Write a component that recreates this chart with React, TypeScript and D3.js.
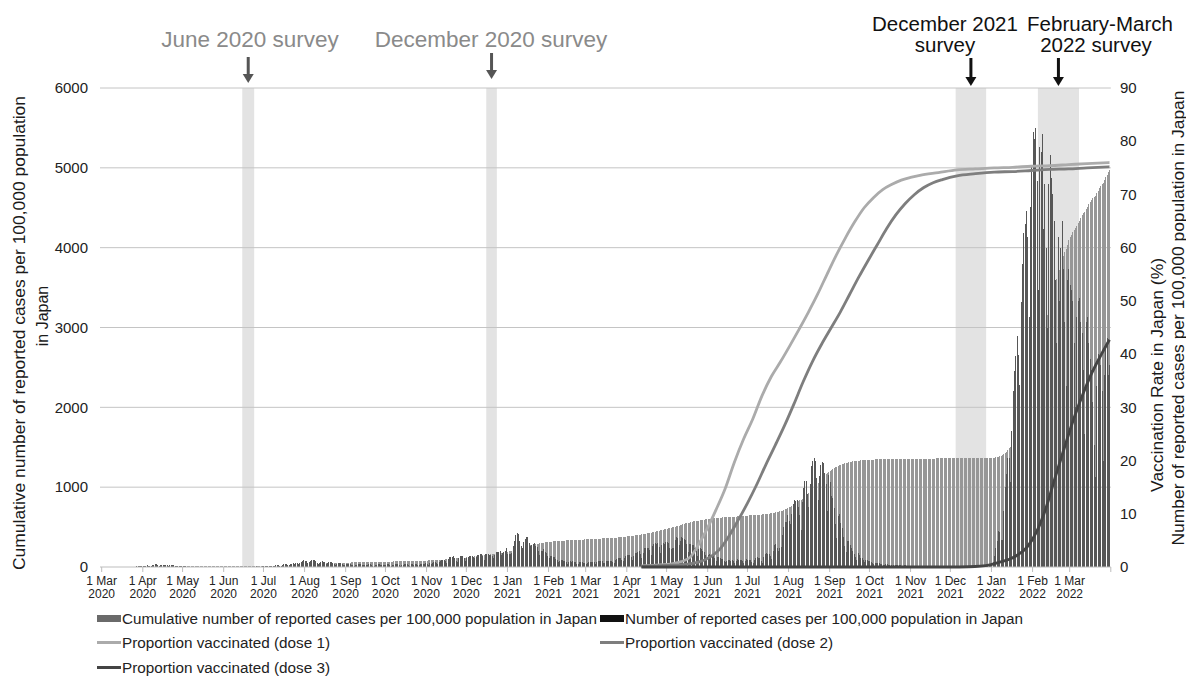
import React from 'react';
import * as d3 from 'd3';

const W = 1186;
const H = 677;
const FONT = '"Liberation Sans", Arial, Helvetica, sans-serif';

// Daily reported cases per 100,000 (right axis), one array per month, Mar 2020 .. Mar 2022
const dailyCases: number[][] = [
  [0.01,0.01,0.01,0.02,0.03,0.04,0.04,0.03,0.02,0.05,0.04,0.04,0.05,0.04,0.02,0.01,0.03,0.03,0.03,0.03,0.04,0.03,0.03,0.05,0.08,0.08,0.1,0.16,0.14,0.1,0.17],
  [0.21,0.2,0.28,0.29,0.12,0.2,0.28,0.41,0.46,0.55,0.56,0.4,0.24,0.34,0.4,0.46,0.46,0.46,0.3,0.17,0.3,0.34,0.35,0.35,0.28,0.16,0.17,0.23,0.19,0.15],
  [0.13,0.15,0.16,0.07,0.07,0.08,0.08,0.07,0.09,0.05,0.04,0.05,0.04,0.04,0.04,0.03,0.01,0.03,0.02,0.02,0.03,0.02,0.02,0.02,0.02,0.02,0.02,0.03,0.04,0.03,0.03],
  [0.02,0.03,0.04,0.04,0.04,0.03,0.04,0.03,0.03,0.03,0.03,0.04,0.04,0.06,0.04,0.04,0.03,0.03,0.05,0.07,0.05,0.04,0.05,0.06,0.1,0.08,0.09,0.09,0.07,0.1],
  [0.1,0.1,0.2,0.21,0.2,0.15,0.17,0.2,0.28,0.34,0.33,0.32,0.22,0.27,0.36,0.49,0.47,0.53,0.4,0.34,0.5,0.63,0.78,0.61,0.66,0.66,0.48,0.78,0.97,1.07,1.26],
  [1.22,1.11,0.76,0.97,1.12,1.26,1.27,1.25,1.1,0.7,0.56,0.78,1.02,1.07,1.02,0.87,0.64,0.78,0.92,0.87,0.86,0.73,0.58,0.4,0.58,0.71,0.68,0.72,0.56,0.46,0.35],
  [0.5,0.48,0.47,0.47,0.4,0.3,0.23,0.4,0.39,0.51,0.49,0.48,0.35,0.3,0.39,0.39,0.41,0.48,0.48,0.38,0.23,0.19,0.3,0.38,0.51,0.5,0.44,0.29,0.41,0.45],
  [0.42,0.49,0.47,0.37,0.24,0.4,0.38,0.55,0.51,0.5,0.38,0.25,0.46,0.4,0.54,0.51,0.48,0.34,0.24,0.49,0.48,0.46,0.6,0.57,0.46,0.34,0.55,0.58,0.65,0.6,0.69],
  [0.5,0.4,0.7,0.6,0.8,0.89,0.96,0.77,0.6,0.9,1.2,1.3,1.35,1.36,1.2,0.84,1.5,1.8,1.8,1.9,2.0,1.7,1.2,1.0,1.6,2.0,2.0,2.1,1.7,1.2],
  [1.65,1.9,2.0,2.0,2.0,1.9,1.6,1.8,2.3,2.3,2.4,2.4,2.0,1.4,2.4,2.4,2.4,2.3,2.3,2.1,1.6,2.3,2.9,2.9,2.9,3.0,2.3,2.6,2.8,3.0,3.6],
  [2.5,2.5,2.5,2.6,3.9,4.8,6.0,6.3,6.2,4.9,3.9,3.6,4.7,5.3,5.6,5.6,4.5,3.9,4.2,4.4,4.5,4.0,3.7,3.1,2.2,3.0,3.1,3.3,2.8,2.6,2.1],
  [1.6,2.0,2.1,1.9,1.8,1.5,1.3,1.0,1.2,1.4,1.4,1.1,1.1,1.0,0.6,0.9,1.2,1.0,1.1,1.0,1.0,0.6,0.6,0.9,0.9,0.9,0.8,0.8],
  [0.6,0.8,1.0,1.0,1.0,1.0,0.9,0.6,1.0,1.1,1.1,1.1,1.1,0.8,0.8,1.1,1.2,1.2,1.2,1.2,1.0,0.8,1.3,1.5,1.6,1.6,1.7,1.3,1.1,1.6,2.1],
  [2.2,2.2,2.2,1.9,1.3,2.1,2.7,2.7,2.8,3.0,2.5,1.6,2.7,3.6,3.6,3.6,3.6,3.2,2.2,3.9,4.4,4.6,4.3,4.5,3.7,2.6,4.1,4.6,4.4,4.7],
  [4.7,4.6,3.5,3.4,3.5,3.5,5.1,5.7,5.5,4.1,4.8,5.6,5.5,5.3,5.1,4.3,2.9,4.3,4.4,4.2,4.1,3.5,3.0,2.0,3.3,3.5,3.3,3.1,2.8,2.2,1.5],
  [2.3,2.4,2.2,2.1,2.1,1.6,1.2,1.8,1.8,1.6,1.5,1.5,1.2,0.9,1.2,1.4,1.4,1.2,1.3,1.1,0.8,1.2,1.5,1.4,1.4,1.4,1.1,0.8,1.2,1.5],
  [1.4,1.4,1.3,1.0,0.7,1.3,1.7,1.8,1.7,1.6,1.2,0.8,1.8,2.5,2.7,2.4,2.4,2.1,1.5,3.0,4.1,4.3,3.5,3.1,3.5,3.8,6.1,7.6,8.5,8.5,9.8],
  [8.6,8.0,9.9,11.9,12.5,12.4,12.6,11.2,9.7,7.0,12.3,14.8,16.1,16.2,13.8,11.2,15.6,18.9,19.9,20.5,20.0,16.7,12.6,17.1,19.2,19.7,19.6,17.7,15.6,10.5,17.3],
  [15.9,13.3,12.9,11.1,8.0,5.4,9.5,9.9,8.3,7.3,5.7,4.0,2.9,4.9,4.8,4.1,3.5,3.0,2.4,1.8,1.4,2.6,2.3,1.7,1.6,1.3,0.9,1.3,1.4,1.1],
  [1.1,1.0,0.8,0.5,0.7,0.8,0.7,0.7,0.6,0.5,0.3,0.4,0.5,0.5,0.4,0.4,0.3,0.2,0.3,0.3,0.3,0.3,0.3,0.3,0.2,0.2,0.3,0.3,0.2,0.2,0.2],
  [0.07,0.1,0.13,0.18,0.13,0.15,0.13,0.08,0.13,0.15,0.16,0.13,0.14,0.1,0.06,0.1,0.1,0.12,0.12,0.11,0.1,0.05,0.06,0.1,0.11,0.11,0.1,0.08,0.05,0.08],
  [0.1,0.1,0.1,0.1,0.1,0.08,0.1,0.11,0.12,0.11,0.1,0.11,0.07,0.12,0.14,0.14,0.15,0.15,0.14,0.1,0.2,0.21,0.2,0.22,0.22,0.17,0.16,0.3,0.3,0.3,0.4],
  [0.6,1.0,2.1,3.6,4.9,6.7,6.6,5.1,5.1,10.5,15.0,17.5,20.5,20.4,15.9,25.6,33.0,36.8,39.7,43.4,39.8,34.2,49.8,57.0,62.8,64.4,66.8,62.0,47.0,67.6,75.4],
  [81.8,80.5,82.5,72.6,52.0,79.0,78.0,81.4,63.5,72.0,60.0,45.0,72.0,77.4,73.0,70.0,65.0,54.0,42.0,62.0,50.0,60.0,65.0,56.0,46.0,34.0,54.0,56.0],
  [53,52,50,42,30,47,50,50.5,46,44,37,25,46,47,42,39,37,31,23,17,34,40,39,38,33,20,36,41,43,36,38],
];

// Cumulative reported cases per 100,000 (left axis), one array per month, Mar 2020 .. Mar 2022
const cumulativeCases: number[][] = [
  [0.2,0.2,0.2,0.2,0.3,0.3,0.3,0.4,0.4,0.4,0.5,0.5,0.5,0.6,0.6,0.6,0.6,0.7,0.7,0.7,0.8,0.8,0.8,0.9,0.9,1.0,1.1,1.2,1.4,1.5,1.7],
  [1.9,2.1,2.4,2.7,2.8,3.0,3.3,3.7,4.2,4.7,5.3,5.7,6.0,6.3,6.7,7.1,7.6,8.0,8.3,8.5,8.8,9.1,9.5,9.8,10.1,10.3,10.4,10.7,10.9,11.0],
  [11.2,11.4,11.5,11.6,11.7,11.8,11.9,11.9,12.0,12.1,12.1,12.2,12.2,12.3,12.3,12.3,12.4,12.4,12.4,12.5,12.5,12.5,12.5,12.6,12.6,12.6,12.7,12.7,12.7,12.8,12.8],
  [12.8,12.9,12.9,12.9,13.0,13.0,13.0,13.1,13.1,13.1,13.2,13.2,13.2,13.3,13.3,13.4,13.4,13.4,13.5,13.5,13.6,13.6,13.7,13.7,13.8,13.9,14.0,14.1,14.2,14.3],
  [14.4,14.5,14.7,14.9,15.1,15.3,15.5,15.7,15.9,16.2,16.5,16.8,17.1,17.4,17.7,18.2,18.7,19.2,19.6,19.9,20.4,21.0,21.8,22.4,23.1,23.7,24.2,25.0,26.0,27.0,28.3],
  [29.5,30.6,31.4,32.3,33.4,34.7,36.0,37.2,38.3,39.0,39.6,40.4,41.4,42.5,43.5,44.4,45.0,45.8,46.7,47.6,48.5,49.2,49.8,50.2,50.8,51.5,52.2,52.9,53.4,53.9,54.3],
  [54.8,55.3,55.7,56.2,56.6,56.9,57.1,57.5,57.9,58.4,58.9,59.4,59.8,60.1,60.5,60.9,61.3,61.8,62.2,62.6,62.9,63.1,63.4,63.8,64.3,64.8,65.2,65.5,65.9,66.4],
  [66.8,67.3,67.8,68.1,68.4,68.8,69.1,69.7,70.2,70.7,71.1,71.3,71.8,72.2,72.7,73.2,73.7,74.0,74.3,74.8,75.2,75.7,76.3,76.9,77.3,77.7,78.2,78.8,79.4,80.0,80.7],
  [81.2,81.6,82.3,82.9,83.7,84.6,85.6,86.3,86.9,87.8,89.0,90.3,91.7,93.0,94.2,95.1,96.6,98.4,100.2,102.1,104.1,105.8,107.0,108.0,109.6,111.6,113.6,115.7,117.4,118.6],
  [120.3,122.2,124.2,126.2,128.2,130.1,131.7,133.5,135.8,138.1,140.5,142.9,144.9,146.3,148.7,151.1,153.5,155.8,158.1,160.2,161.8,164.1,167.0,169.9,172.8,175.8,178.1,180.7,183.5,186.5,190.1],
  [192.6,195.1,197.6,200.2,204.1,208.9,214.9,221.2,227.4,232.3,236.2,239.8,244.5,249.8,255.4,261.0,265.5,269.4,273.6,278.0,282.5,286.5,290.2,293.3,295.5,298.5,301.6,304.9,307.7,310.3,312.4],
  [314.0,316.0,318.1,320.0,321.8,323.3,324.6,325.6,326.8,328.2,329.6,330.7,331.8,332.8,333.4,334.3,335.5,336.5,337.6,338.6,339.6,340.2,340.8,341.7,342.6,343.5,344.3,345.1],
  [345.7,346.5,347.5,348.5,349.5,350.5,351.4,352.0,353.0,354.1,355.2,356.3,357.4,358.2,359.0,360.1,361.3,362.5,363.7,364.9,365.9,366.7,368.0,369.5,371.1,372.7,374.4,375.7,376.8,378.4,380.5],
  [382.7,384.9,387.1,389.0,390.3,392.4,395.1,397.8,400.6,403.6,406.1,407.7,410.4,414.0,417.6,421.2,424.8,428.0,430.2,434.1,438.5,443.1,447.4,451.9,455.6,458.2,462.3,466.9,471.3,476.0],
  [480.7,485.3,488.8,492.2,495.7,499.2,504.3,510.0,515.5,519.6,524.4,530.0,535.5,540.8,545.9,550.2,553.1,557.4,561.8,566.0,570.1,573.6,576.6,578.6,581.9,585.4,588.7,591.8,594.6,596.8,598.3],
  [600.6,603.0,605.2,607.3,609.4,611.0,612.2,614.0,615.8,617.4,618.9,620.4,621.6,622.5,623.7,625.1,626.5,627.7,629.0,630.1,630.9,632.1,633.6,635.0,636.4,637.8,638.9,639.7,640.9,642.4],
  [643.8,645.2,646.5,647.5,648.2,649.5,651.2,653.0,654.7,656.3,657.5,658.3,660.1,662.6,665.3,667.7,670.1,672.2,673.7,676.7,680.8,685.1,688.6,691.7,695.2,699.0,705.1,712.7,721.2,729.7,739.5],
  [748.1,756.1,766.0,777.9,790.4,802.8,815.4,826.6,836.3,843.3,855.6,870.4,886.5,902.7,916.5,927.7,943.3,962.2,982.1,1002.6,1022.6,1039.3,1051.9,1069.0,1088.2,1107.9,1127.5,1145.2,1160.8,1171.3,1188.6],
  [1204.5,1217.8,1230.7,1241.8,1249.8,1255.2,1264.7,1274.6,1282.9,1290.2,1295.9,1299.9,1302.8,1307.7,1312.5,1316.6,1320.1,1323.1,1325.5,1327.3,1328.7,1331.3,1333.6,1335.3,1336.9,1338.2,1339.1,1340.4,1341.8,1342.9],
  [1344.0,1345.0,1345.8,1346.3,1347.0,1347.8,1348.5,1349.2,1349.8,1350.3,1350.6,1351.0,1351.5,1352.0,1352.4,1352.8,1353.1,1353.3,1353.6,1353.9,1354.2,1354.5,1354.8,1355.1,1355.3,1355.5,1355.8,1356.1,1356.3,1356.5,1356.7],
  [1356.8,1356.9,1357.0,1357.2,1357.3,1357.5,1357.6,1357.7,1357.8,1358.0,1358.1,1358.3,1358.4,1358.5,1358.6,1358.7,1358.8,1358.9,1359.0,1359.1,1359.2,1359.3,1359.4,1359.5,1359.6,1359.7,1359.8,1359.9,1360.0,1360.1],
  [1360.2,1360.3,1360.4,1360.5,1360.6,1360.7,1360.8,1360.9,1361.0,1361.1,1361.2,1361.3,1361.4,1361.5,1361.6,1361.8,1361.9,1362.1,1362.2,1362.3,1362.5,1362.7,1362.9,1363.1,1363.4,1363.5,1363.7,1364.0,1364.3,1364.6,1365.0],
  [1365.6,1366.6,1368.7,1372.3,1377.2,1383.9,1390.5,1395.6,1400.7,1411.2,1426.2,1443.7,1464.2,1484.6,1500.5,1526.1,1559.1,1595.9,1635.6,1679.0,1718.8,1753.0,1802.8,1859.8,1922.6,1987.0,2053.8,2115.8,2162.8,2230.4,2305.8],
  [2387.6,2468.1,2550.6,2623.2,2675.2,2754.2,2832.2,2913.6,2977.1,3049.1,3109.1,3154.1,3226.1,3303.5,3376.5,3446.5,3511.5,3565.5,3607.5,3669.5,3719.5,3779.5,3844.5,3900.5,3946.5,3980.5,4034.5,4090.5],
  [4128,4162,4195,4226,4252,4274,4306,4340,4372,4403,4431,4452,4482,4513,4543,4572,4599,4621,4638,4652,4680,4712,4743,4772,4798,4815,4845,4880,4914,4944,4972],
];

// Proportion vaccinated (%), right axis
const dose1: [string, number][] = [
  ['2021-04-12', 0.2], ['2021-04-26', 0.4], ['2021-05-05', 0.6], ['2021-05-12', 1.0], ['2021-05-19', 1.9],
  ['2021-05-26', 4.6], ['2021-06-01', 7.4], ['2021-06-07', 10.6], ['2021-06-14', 14.6], ['2021-06-21', 19.6],
  ['2021-06-28', 24.0], ['2021-07-05', 27.8], ['2021-07-12', 32.2], ['2021-07-19', 35.8], ['2021-07-26', 38.6],
  ['2021-08-02', 41.6], ['2021-08-09', 44.7], ['2021-08-16', 47.9], ['2021-08-23', 51.3], ['2021-08-30', 55.0],
  ['2021-09-06', 58.6], ['2021-09-13', 61.9], ['2021-09-20', 64.9], ['2021-09-27', 67.5], ['2021-10-04', 69.4],
  ['2021-10-11', 70.9], ['2021-10-18', 71.9], ['2021-10-25', 72.7], ['2021-11-01', 73.2], ['2021-11-08', 73.6],
  ['2021-11-22', 74.1], ['2021-12-06', 74.6], ['2021-12-20', 74.8], ['2022-01-03', 75.0], ['2022-01-17', 75.1],
  ['2022-01-31', 75.3], ['2022-02-14', 75.4], ['2022-02-28', 75.6], ['2022-03-14', 75.8], ['2022-03-31', 76.0],
];
const dose2: [string, number][] = [
  ['2021-04-12', 0.1], ['2021-05-01', 0.3], ['2021-05-15', 0.5], ['2021-05-25', 0.9], ['2021-06-03', 1.9],
  ['2021-06-10', 3.3], ['2021-06-17', 5.8], ['2021-06-24', 8.8], ['2021-07-01', 12.0], ['2021-07-08', 15.5],
  ['2021-07-15', 19.3], ['2021-07-22', 22.9], ['2021-07-29', 26.6], ['2021-08-05', 30.6], ['2021-08-12', 34.8],
  ['2021-08-19', 38.6], ['2021-08-26', 41.9], ['2021-09-02', 44.9], ['2021-09-09', 47.9], ['2021-09-16', 51.2],
  ['2021-09-23', 54.5], ['2021-09-30', 57.6], ['2021-10-07', 60.6], ['2021-10-14', 63.6], ['2021-10-21', 66.2],
  ['2021-10-28', 68.3], ['2021-11-04', 70.0], ['2021-11-11', 71.3], ['2021-11-18', 72.2], ['2021-11-25', 72.8],
  ['2021-12-06', 73.5], ['2021-12-20', 73.9], ['2022-01-03', 74.2], ['2022-01-17', 74.3], ['2022-01-31', 74.5],
  ['2022-02-14', 74.7], ['2022-02-28', 74.8], ['2022-03-14', 75.0], ['2022-03-31', 75.2],
];
const dose3: [string, number][] = [
  ['2021-04-12', 0], ['2021-11-30', 0], ['2021-12-15', 0.05], ['2021-12-31', 0.4], ['2022-01-07', 0.9],
  ['2022-01-14', 1.4], ['2022-01-21', 2.3], ['2022-01-28', 3.8], ['2022-02-04', 6.6], ['2022-02-11', 11.0],
  ['2022-02-18', 16.8], ['2022-02-25', 22.4], ['2022-03-04', 27.8], ['2022-03-11', 32.5], ['2022-03-18', 36.6],
  ['2022-03-25', 40.0], ['2022-03-31', 42.7],
];

const leftTicks = [0, 1000, 2000, 3000, 4000, 5000, 6000];
const rightTicks = [0, 10, 20, 30, 40, 50, 60, 70, 80, 90];

const surveys = [
  { lines: ['June 2020 survey'], start: '2020-06-15', end: '2020-06-24', dark: false },
  { lines: ['December 2020 survey'], start: '2020-12-16', end: '2020-12-24', dark: false },
  { lines: ['December 2021', 'survey'], start: '2021-12-05', end: '2021-12-28', dark: true },
  { lines: ['February-March', '2022 survey'], start: '2022-02-05', end: '2022-03-08', dark: true },
];

const legendItems = [
  { label: 'Cumulative number of reported cases per 100,000 population in Japan', kind: 'rect', color: '#6a6a6a' },
  { label: 'Number of reported cases per 100,000 population in Japan', kind: 'rect', color: '#111111' },
  { label: 'Proportion vaccinated (dose 1)', kind: 'line', color: '#ababab' },
  { label: 'Proportion vaccinated (dose 2)', kind: 'line', color: '#7e7e7e' },
  { label: 'Proportion vaccinated (dose 3)', kind: 'line', color: '#444444' },
];

const parse = d3.utcParse('%Y-%m-%d');

function expand(months: number[][]) {
  const out: { date: Date; value: number }[] = [];
  months.forEach((arr, m) =>
    arr.forEach((v, i) => out.push({ date: new Date(Date.UTC(2020, 2 + m, 1 + i)), value: v }))
  );
  return out;
}

export default function App() {
  const x = d3.scaleUtc().domain([new Date(Date.UTC(2020, 2, 1)), new Date(Date.UTC(2022, 3, 1))]).range([101.7, 1110.8]);
  const yL = d3.scaleLinear().domain([0, 6000]).range([567, 88]);
  const yR = d3.scaleLinear().domain([0, 90]).range([567, 88]);

  const daily = expand(dailyCases);
  const cumul = expand(cumulativeCases);

  const monthTicks = x.ticks(d3.utcMonth.every(1) as any);
  const fmtDay = d3.utcFormat('%-d %b');
  const fmtYear = d3.utcFormat('%Y');

  const line = d3
    .line<[string, number]>()
    .x((d) => x(parse(d[0]) as Date))
    .y((d) => yR(d[1]))
    .curve(d3.curveMonotoneX);

  const doseLines = [
    { data: dose1, color: '#ababab' },
    { data: dose2, color: '#7e7e7e' },
    { data: dose3, color: '#444444' },
  ];

  const x0 = 100;
  const x1 = 1110.8;

  const legendPos = [
    { x: 97, y: 624, w: 475 },
    { x: 600, y: 624, w: 398 },
    { x: 97, y: 648, w: 208 },
    { x: 600, y: 648, w: 208 },
    { x: 97, y: 673, w: 208 },
  ];

  return (
    <div style={{ position: 'absolute', left: 0, top: 0 }}>
      <svg width={W} height={H} style={{ display: 'block', background: '#fff' }} fontFamily={FONT}>
        {surveys.map((s, i) => {
          const a = x(parse(s.start) as Date);
          const b = x(parse(s.end) as Date);
          return <rect key={'band' + i} x={a} y={88} width={b - a} height={567 - 88} fill="#e3e3e3" />;
        })}
        {leftTicks.filter((t) => t > 0).map((t) => (
          <line key={'g' + t} x1={x0} x2={x1} y1={yL(t)} y2={yL(t)} stroke="#c4c4c4" strokeWidth={1} />
        ))}
        <g shapeRendering="crispEdges">
          {cumul.map((d, i) => (
            <rect key={'c' + i} x={Math.round(x(d.date))} y={yL(d.value)} width={1} height={567 - yL(d.value)} fill="#979797" />
          ))}
        </g>
        <g shapeRendering="crispEdges">
          {daily.map((d, i) => (
            <rect key={'d' + i} x={Math.round(x(d.date))} y={yR(d.value)} width={1} height={567 - yR(d.value)} fill="#575757" />
          ))}
        </g>
        <line x1={x0} x2={x1} y1={567} y2={567} stroke="#bdbdbd" strokeWidth={1} />
        {monthTicks.map((t, i) => (
          <line key={'t' + i} x1={x(t)} x2={x(t)} y1={567} y2={572} stroke="#bdbdbd" strokeWidth={1} />
        ))}
        {doseLines.map((l, i) => (
          <path key={'l' + i} d={line(l.data) || ''} fill="none" stroke={l.color} strokeWidth={2.8} strokeLinejoin="round" />
        ))}
        {monthTicks.slice(0, -1).map((t, i) => (
          <g key={'xl' + i} fontSize={12} fill="#222" textAnchor="middle">
            <text x={x(t)} y={584.5}>{fmtDay(t)}</text>
            <text x={x(t)} y={598}>{fmtYear(t)}</text>
          </g>
        ))}
        {leftTicks.map((t) => (
          <text key={'yl' + t} x={88} y={yL(t)} dy="0.35em" fontSize={15} fill="#222" textAnchor="end">
            {t}
          </text>
        ))}
        {rightTicks.map((t) => (
          <text key={'yr' + t} x={1120} y={yR(t)} dy="0.35em" fontSize={15} fill="#222" textAnchor="start">
            {t}
          </text>
        ))}
        <g fontSize={16} fill="#1a1a1a" textAnchor="middle">
          <text transform="translate(19,333) rotate(-90)" dy="0.35em" textLength={474} lengthAdjust="spacingAndGlyphs">
            Cumulative number of reported cases per 100,000 population
          </text>
          <text transform="translate(42,316) rotate(-90)" dy="0.35em">
            in Japan
          </text>
          <text transform="translate(1157,375) rotate(-90)" dy="0.35em" textLength={234} lengthAdjust="spacingAndGlyphs">
            Vaccination Rate in Japan (%)
          </text>
          <text transform="translate(1178,318) rotate(-90)" dy="0.35em" textLength={455} lengthAdjust="spacingAndGlyphs">
            Number of reported cases per 100,000 population in Japan
          </text>
        </g>
        {surveys.map((s, i) => {
          const cx = (x(parse(s.start) as Date) + x(parse(s.end) as Date)) / 2;
          const col = s.dark ? '#111' : '#555';
          const tcol = s.dark ? '#111' : '#8a8a8a';
          const top = s.dark ? 58 : i === 0 ? 57 : 53;
          const tip = s.dark ? 86 : i === 0 ? 83 : 79;
          const textCx = [250, 491, 945, 1100][i];
          return (
            <g key={'s' + i}>
              {s.lines.length === 1 ? (
                <text x={textCx} y={46.5} fontSize={22.5} fill={tcol} textAnchor="middle">
                  {s.lines[0]}
                </text>
              ) : (
                <g fontSize={20.5} fill={tcol} textAnchor="middle">
                  <text x={textCx} y={31}>{s.lines[0]}</text>
                  <text x={textCx - (i === 3 ? 4 : 0)} y={52}>{s.lines[1]}</text>
                </g>
              )}
              <line x1={cx} x2={cx} y1={top} y2={tip - 8} stroke={col} strokeWidth={3} />
              <path d={`M${cx - 5.5},${tip - 9} L${cx + 5.5},${tip - 9} L${cx},${tip} Z`} fill={col} />
            </g>
          );
        })}
        {legendItems.map((it, i) => {
          const p = legendPos[i];
          return (
            <g key={'lg' + i}>
              {it.kind === 'rect' ? (
                <rect x={p.x} y={p.y - 9} width={24} height={7} fill={it.color} />
              ) : (
                <line x1={p.x} x2={p.x + 24} y1={p.y - 5.5} y2={p.y - 5.5} stroke={it.color} strokeWidth={3} />
              )}
              <text x={p.x + 25} y={p.y} fontSize={14} fill="#222" textLength={p.w} lengthAdjust="spacingAndGlyphs">
                {it.label}
              </text>
            </g>
          );
        })}
      </svg>
    </div>
  );
}
